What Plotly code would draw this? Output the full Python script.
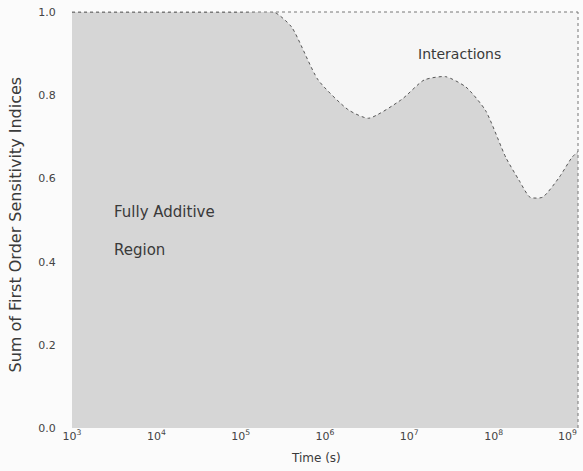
import plotly.graph_objects as go

time_s = [1e3, 1e4, 1e5, 2.5e5, 4.0e5, 8.3e5, 1.9e6, 3.3e6, 8.1e6, 1.5e7, 2.7e7,
          4.7e7, 8.0e7, 1.4e8, 2.0e8, 2.7e8, 3.8e8, 6.0e8, 8.5e8, 1e9]
sum_first_order = [1.0, 1.0, 1.0, 1.0, 0.965, 0.837, 0.765, 0.745, 0.79, 0.837, 0.845,
                   0.82, 0.764, 0.65, 0.596, 0.555, 0.555, 0.603, 0.651, 0.665]

x_ticks = [1e3, 1e4, 1e5, 1e6, 1e7, 1e8, 1e9]
x_tick_labels = ["10<sup>3</sup>", "10<sup>4</sup>", "10<sup>5</sup>", "10<sup>6</sup>",
                 "10<sup>7</sup>", "10<sup>8</sup>",
                 "10<sup>9</sup>" + "\u00a0" * 6]
y_ticks = [0.0, 0.2, 0.4, 0.6, 0.8, 1.0]
y_tick_labels = ["0.0", "0.2", "0.4", "0.6", "0.8", "1.0"]

txt = "#3a3a3a"
fnt = "DejaVu Sans, Verdana, sans-serif"
fig = go.Figure()
fig.add_trace(go.Scatter(
    x=time_s, y=sum_first_order, mode="lines", fill="tozeroy",
    fillcolor="#d6d6d6", line=dict(color="#555555", width=1, dash="dot", shape="spline", smoothing=0.6),
    showlegend=False, hoverinfo="skip"))

fig.add_annotation(x=7.6, y=0.899, xref="x", yref="y", text="Interactions", showarrow=False,
                   font=dict(size=14, color=txt, family=fnt))
fig.add_annotation(x=3.477, y=0.519, xref="x", yref="y", text="Fully Additive", showarrow=False,
                   xanchor="left", font=dict(size=15, color=txt, family=fnt))
fig.add_annotation(x=3.477, y=0.428, xref="x", yref="y", text="Region", showarrow=False,
                   xanchor="left", font=dict(size=15, color=txt, family=fnt))

# axis titles placed as annotations for precise positioning
fig.add_annotation(x=-0.112, y=0.49, xref="paper", yref="paper",
                   text="Sum of First Order Sensitivity Indices", textangle=-90, showarrow=False,
                   xanchor="center", yanchor="middle", font=dict(size=16, color=txt, family=fnt))
fig.add_annotation(x=0.482, y=-0.072, xref="paper", yref="paper", text="Time (s)", showarrow=False,
                   xanchor="center", yanchor="middle", font=dict(size=12, color=txt, family=fnt))

fig.add_shape(type="line", xref="paper", yref="paper", x0=0, x1=1, y0=1, y1=1,
              line=dict(color="#777777", width=1, dash="dot"))
fig.add_shape(type="line", xref="paper", yref="paper", x0=1, x1=1, y0=0, y1=1,
              line=dict(color="#777777", width=1, dash="dot"))

fig.update_layout(
    width=583, height=471,
    margin=dict(l=72, r=5, t=12, b=43, autoexpand=False),
    paper_bgcolor="#fbfbfb", plot_bgcolor="#f6f6f6",
    font=dict(family=fnt, size=11, color=txt),
    xaxis=dict(type="log", range=[3, 9.0005], tickvals=x_ticks, ticktext=x_tick_labels,
               showgrid=False, zeroline=False, showline=False, ticks="",
               ticklabeloverflow="allow", automargin=False,
               tickfont=dict(size=11, color="#444444")),
    yaxis=dict(range=[0, 1.0005], tickvals=y_ticks, ticktext=y_tick_labels,
               showgrid=False, zeroline=False, showline=False,
               ticks="outside", ticklen=13, tickcolor="rgba(0,0,0,0)",
               ticklabeloverflow="allow", automargin=False,
               tickfont=dict(size=11, color="#444444")),
)
fig.write_html("out.html", config={"displayModeBar": False},
               post_script="document.body.style.margin='0';document.body.style.overflow='hidden';")
